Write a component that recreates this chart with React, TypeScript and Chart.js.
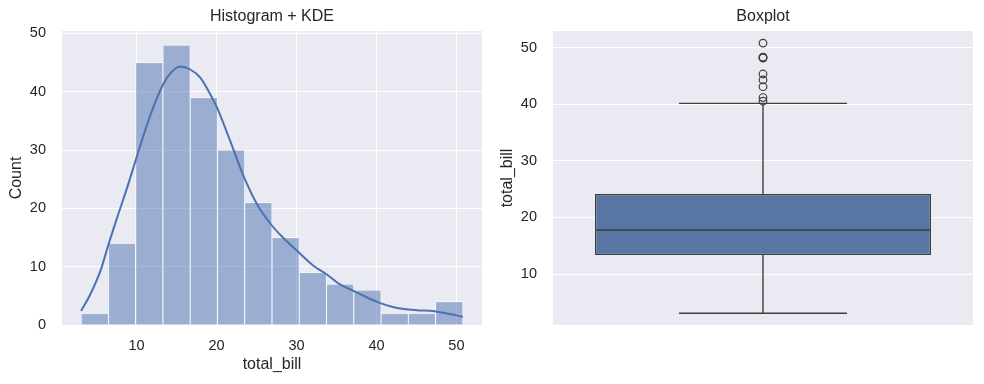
import React, { useEffect, useRef } from "react";
import { Chart, registerables } from "chart.js";

Chart.register(...registerables);

// ---------- data ----------
const binEdges = [3.07, 6.48, 9.89, 13.3, 16.71, 20.12, 23.53, 26.94, 30.35, 33.76, 37.17, 40.58, 43.99, 47.4, 50.81];
const binCounts = [2, 14, 45, 48, 39, 30, 21, 15, 9, 7, 6, 2, 2, 4];

const kdeX = [3.07, 4.27, 5.52, 6.47, 7.6, 8.84, 10.0, 11.33, 12.58, 13.82, 15.48, 16.72, 17.97, 19.2, 20.05, 21.7, 23.36, 25.03, 26.9, 28.3, 30.0, 32.08, 33.75, 35.4, 37.06, 38.7, 40.4, 42.04, 43.7, 45.37, 47.0, 48.7, 50.81];
const kdeY = [2.4, 5.4, 9.4, 13.7, 18.5, 23.6, 28.7, 34.4, 39.0, 42.4, 44.3, 43.8, 42.4, 39.6, 37.3, 31.6, 25.6, 20.8, 17.1, 15.0, 12.8, 10.2, 8.7, 7.0, 5.9, 4.8, 3.8, 3.1, 2.7, 2.5, 2.4, 2.0, 1.4];

const histXTicks = [10, 20, 30, 40, 50];
const histYTicks = [0, 10, 20, 30, 40, 50];
const boxYTicks = [10, 20, 30, 40, 50];

const whiskerLow = 3.07;
const q1 = 13.3475;
const median = 17.795;
const q3 = 24.1275;
const whiskerHigh = 40.17;
const outliers = [40.55, 41.19, 43.11, 44.3, 45.35, 48.17, 48.27, 48.33, 50.81];

// ---------- styles ----------
const FONT = "'Liberation Sans', Arial, Helvetica, sans-serif";
const TEXT = "#262626";
const BG = "#EAEAF2";
const LINE = "#3F3F3F";
const BOX_HALF = 0.4;
const CAP_HALF = 0.2;
const TICK_SIZE = 14.5;
const LABEL_SIZE = 16;

const bgPlugin = {
  id: "plotBg",
  beforeDraw(chart: any) {
    const { ctx, chartArea: a } = chart;
    ctx.save();
    ctx.fillStyle = BG;
    ctx.fillRect(a.left, a.top, a.right - a.left, a.bottom - a.top);
    ctx.restore();
  },
};

const axTitlePlugin = {
  id: "axTitle",
  afterDraw(chart: any, _args: any, opts: any) {
    const { ctx, chartArea: a } = chart;
    ctx.save();
    ctx.fillStyle = TEXT;
    ctx.font = `${LABEL_SIZE}px ${FONT}`;
    ctx.textAlign = "center";
    ctx.textBaseline = "middle";
    ctx.fillText(opts.text, (a.left + a.right) / 2, 17);
    ctx.restore();
  },
};

const setTicks = (vals: number[]) => (ax: any) => {
  ax.ticks = vals.map((v) => ({ value: v }));
};

function commonY(title: string, min: number, max: number, ticks: number[]) {
  return {
    type: "linear",
    min,
    max,
    afterBuildTicks: setTicks(ticks),
    afterFit: (ax: any) => {
      ax.width = 62;
    },
    grid: { color: "#ffffff", lineWidth: 1, drawTicks: false },
    border: { display: false },
    ticks: { color: TEXT, font: { family: FONT, size: TICK_SIZE }, padding: 16 },
    title: {
      display: true,
      text: title,
      color: TEXT,
      font: { family: FONT, size: LABEL_SIZE },
      padding: { top: 7, bottom: 0 },
    },
  };
}

function baseOptions(title: string, scales: any) {
  return {
    responsive: false,
    animation: false,
    devicePixelRatio: 1,
    layout: { padding: { left: 0, right: 10, top: 31, bottom: 0 } },
    plugins: {
      legend: { display: false },
      tooltip: { enabled: false },
      title: { display: false },
      axTitle: { text: title },
    },
    scales,
  };
}

function HistChart() {
  const ref = useRef<HTMLCanvasElement>(null);
  useEffect(() => {
    const chart = new Chart(ref.current as HTMLCanvasElement, {
      type: "bar",
      data: {
        datasets: [
          {
            type: "line",
            data: kdeX.map((x, i) => ({ x, y: kdeY[i] })),
            borderColor: "#4C72B0",
            borderWidth: 2,
            pointRadius: 0,
            cubicInterpolationMode: "monotone",
            order: 0,
          } as any,
          {
            type: "bar",
            data: binCounts.map((c, i) => ({ x: (binEdges[i] + binEdges[i + 1]) / 2, y: c })),
            backgroundColor: "rgba(76,114,176,0.5)",
            borderColor: "#ffffff",
            borderWidth: 0.75,
            barPercentage: 1,
            categoryPercentage: 1,
            order: 1,
          } as any,
        ],
      },
      options: baseOptions("Histogram + KDE", {
        x: {
          type: "linear",
          offset: false,
          min: 0.68,
          max: 53.2,
          afterBuildTicks: setTicks(histXTicks),
          afterFit: (ax: any) => {
            ax.height = 59;
          },
          grid: { color: "#ffffff", lineWidth: 1, drawTicks: false, offset: false },
          border: { display: false },
          ticks: { color: TEXT, font: { family: FONT, size: TICK_SIZE }, padding: 12, maxRotation: 0, autoSkip: false },
          title: {
            display: true,
            text: "total_bill",
            color: TEXT,
            font: { family: FONT, size: LABEL_SIZE },
            padding: { top: 0, bottom: 10 },
          },
        },
        y: commonY("Count", 0, 50.4, histYTicks),
      }) as any,
      plugins: [bgPlugin, axTitlePlugin],
    });
    return () => chart.destroy();
  }, []);
  return <canvas ref={ref} width={492} height={384} style={{ position: "absolute", left: 0, top: 0 }} />;
}

function BoxChart() {
  const ref = useRef<HTMLCanvasElement>(null);
  useEffect(() => {
    const seg = (pts: { x: number; y: number }[]) =>
      ({
        type: "line",
        data: pts,
        borderColor: LINE,
        borderWidth: 1.4,
        pointRadius: 0,
        order: 0,
      }) as any;
    const chart = new Chart(ref.current as HTMLCanvasElement, {
      type: "bar",
      data: {
        datasets: [
          {
            type: "bar",
            data: [{ x: 0, y: [q1, q3] }],
            backgroundColor: "#5975A4",
            borderColor: LINE,
            borderWidth: 1.4,
            borderSkipped: false,
            barPercentage: 2 * BOX_HALF,
            categoryPercentage: 1,
            order: 5,
          } as any,
          seg([{ x: 0, y: whiskerLow }, { x: 0, y: q1 }]),
          seg([{ x: 0, y: q3 }, { x: 0, y: whiskerHigh }]),
          seg([{ x: -CAP_HALF, y: whiskerLow }, { x: CAP_HALF, y: whiskerLow }]),
          seg([{ x: -CAP_HALF, y: whiskerHigh }, { x: CAP_HALF, y: whiskerHigh }]),
          seg([{ x: -BOX_HALF, y: median }, { x: BOX_HALF, y: median }]),
          {
            type: "line",
            data: outliers.map((v) => ({ x: 0, y: v })),
            showLine: false,
            pointRadius: 3.8,
            pointBorderColor: LINE,
            pointBackgroundColor: "rgba(0,0,0,0)",
            pointBorderWidth: 1.2,
            order: 0,
          } as any,
        ],
      },
      options: baseOptions("Boxplot", {
        x: {
          type: "linear",
          offset: false,
          min: -0.5,
          max: 0.5,
          afterBuildTicks: (ax: any) => {
            ax.ticks = [];
          },
          afterFit: (ax: any) => {
            ax.height = 59;
          },
          grid: { display: false, offset: false },
          border: { display: false },
          ticks: { display: false },
        },
        y: commonY("total_bill", 1.0, 52.95, boxYTicks),
      }) as any,
      plugins: [bgPlugin, axTitlePlugin],
    });
    return () => chart.destroy();
  }, []);
  return <canvas ref={ref} width={492} height={384} style={{ position: "absolute", left: 491, top: 0 }} />;
}

export default function App() {
  return (
    <div style={{ position: "absolute", left: 0, top: 0, width: 984, height: 384, background: "#ffffff" }}>
      <HistChart />
      <BoxChart />
    </div>
  );
}
